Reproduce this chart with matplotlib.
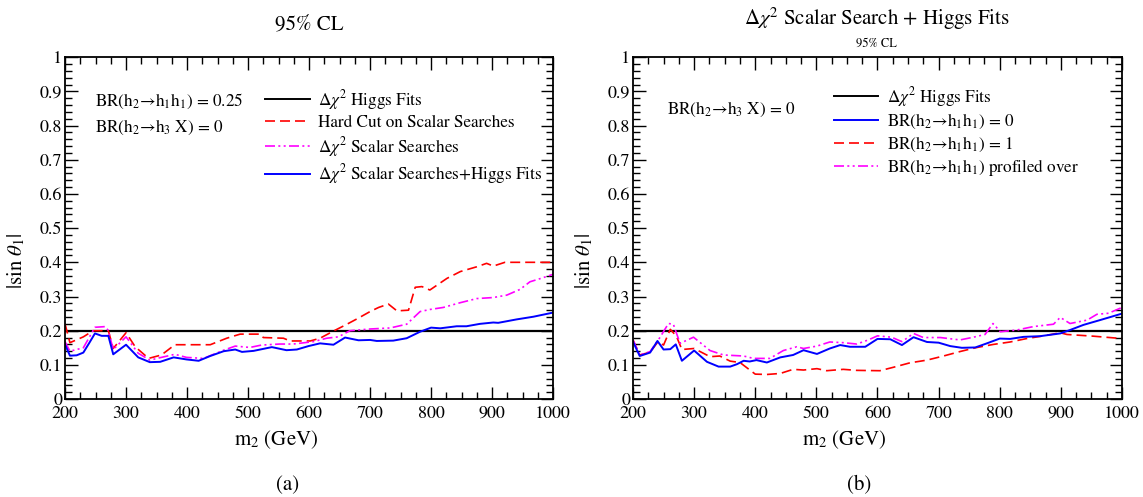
import matplotlib
matplotlib.use("Agg")
import matplotlib.pyplot as plt
import matplotlib.transforms as mtransforms
from matplotlib.ticker import MultipleLocator
from matplotlib.lines import Line2D

plt.rcParams['font.family'] = ['STIXGeneral', 'DejaVu Serif']
plt.rcParams['mathtext.fontset'] = 'stix'

# sin(theta) limit from Higgs fits alone
higgs_limit = 0.2
m_range = [200, 1000]

# ---- panel (a) ----
m_a_hard = [200, 208, 230, 246, 271, 279, 300, 315, 337, 358, 380, 438, 465, 487, 520, 525,
            558, 569, 602, 618, 640, 660, 680, 700, 714, 730, 744, 763, 774, 785, 798, 826,
            848, 875, 891, 902, 921, 1000]
s_a_hard = [0.22, 0.165, 0.182, 0.2, 0.2, 0.148, 0.194, 0.153, 0.119, 0.129, 0.159, 0.159, 0.178,
            0.19, 0.19, 0.18, 0.178, 0.17, 0.17, 0.178, 0.199, 0.217, 0.236, 0.256, 0.268, 0.278,
            0.258, 0.26, 0.327, 0.329, 0.319, 0.353, 0.373, 0.387, 0.397, 0.389, 0.40, 0.40]

m_a_scalar = [200, 208, 230, 249, 266, 271, 279, 300, 320, 339, 358, 380, 399, 427, 460, 479,
              503, 522, 552, 574, 607, 629, 648, 667, 700, 733, 760, 782, 798, 820, 848, 875,
              902, 924, 946, 962, 980, 1000]
s_a_scalar = [0.168, 0.14, 0.15, 0.21, 0.212, 0.2, 0.145, 0.182, 0.134, 0.114, 0.122, 0.131,
              0.122, 0.119, 0.143, 0.155, 0.151, 0.158, 0.161, 0.161, 0.168, 0.178, 0.182, 0.2,
              0.205, 0.208, 0.219, 0.256, 0.262, 0.268, 0.282, 0.294, 0.297, 0.304, 0.321,
              0.343, 0.353, 0.365]

m_a_comb = [200, 208, 219, 230, 240, 249, 260, 271, 279, 300, 320, 339, 356, 378, 399, 419, 438,
            460, 479, 490, 509, 539, 563, 580, 599, 618, 640, 659, 681, 700, 711, 738, 760, 782,
            800, 815, 842, 858, 880, 902, 910, 940, 968, 1000]
s_a_comb = [0.16, 0.127, 0.128, 0.136, 0.165, 0.192, 0.185, 0.185, 0.131, 0.159, 0.122, 0.108,
            0.109, 0.122, 0.116, 0.112, 0.126, 0.140, 0.145, 0.138, 0.141, 0.152, 0.143, 0.145,
            0.155, 0.163, 0.159, 0.180, 0.172, 0.173, 0.170, 0.171, 0.178, 0.197, 0.209, 0.207,
            0.213, 0.213, 0.220, 0.224, 0.223, 0.233, 0.241, 0.253]

# ---- panel (b) ----
m_b_br0 = [200, 211, 228, 240, 250, 261, 270, 280, 300, 321, 340, 359, 370, 381, 391, 402, 419,
           441, 462, 479, 501, 522, 539, 555, 580, 600, 621, 640, 659, 681, 700, 719, 738, 760,
           779, 800, 817, 839, 866, 899, 915, 937, 964, 1000]
s_b_br0 = [0.168, 0.126, 0.136, 0.17, 0.145, 0.146, 0.16, 0.112, 0.142, 0.109, 0.095, 0.095,
           0.102, 0.112, 0.110, 0.114, 0.107, 0.122, 0.129, 0.143, 0.132, 0.148, 0.158, 0.153,
           0.153, 0.176, 0.175, 0.158, 0.181, 0.167, 0.165, 0.155, 0.150, 0.151, 0.163, 0.177,
           0.176, 0.182, 0.184, 0.192, 0.202, 0.217, 0.231, 0.250]

m_b_br1 = [200, 211, 228, 241, 250, 261, 271, 280, 300, 326, 342, 359, 375, 400, 419, 441, 462,
           479, 501, 517, 544, 566, 604, 626, 653, 681, 708, 735, 760, 790, 817, 844, 872, 899,
           910, 953, 1000]
s_b_br1 = [0.173, 0.129, 0.137, 0.168, 0.158, 0.204, 0.184, 0.145, 0.148, 0.124, 0.126, 0.111,
           0.107, 0.073, 0.072, 0.075, 0.087, 0.085, 0.089, 0.083, 0.087, 0.084, 0.083, 0.093,
           0.106, 0.114, 0.126, 0.139, 0.150, 0.160, 0.167, 0.177, 0.185, 0.194, 0.189, 0.184,
           0.177]

m_b_prof = [200, 211, 228, 244, 258, 266, 277, 299, 326, 348, 381, 397, 424, 446, 468, 479, 501,
            522, 544, 566, 585, 600, 623, 640, 659, 675, 703, 735, 757, 776, 789, 801, 828, 855,
            888, 899, 915, 943, 959, 978, 1000]
s_b_prof = [0.173, 0.129, 0.139, 0.18, 0.221, 0.219, 0.163, 0.181, 0.142, 0.129, 0.126, 0.119,
            0.119, 0.142, 0.153, 0.148, 0.155, 0.167, 0.165, 0.161, 0.173, 0.185, 0.181, 0.168,
            0.192, 0.18, 0.18, 0.173, 0.181, 0.189, 0.221, 0.197, 0.202, 0.212, 0.219, 0.239,
            0.221, 0.231, 0.248, 0.251, 0.268]

RED_DASH = (0, (6, 3))
MAG_DASH = (0, (6, 2, 1.2, 2, 1.2, 2))
FS_TXT = 12.3


def style_axes(ax):
    ax.set_xlim(200, 1000)
    ax.set_ylim(0, 1)
    ax.xaxis.set_major_locator(MultipleLocator(100))
    ax.xaxis.set_minor_locator(MultipleLocator(25))
    ax.yaxis.set_major_locator(MultipleLocator(0.1))
    ax.yaxis.set_minor_locator(MultipleLocator(0.02))
    ax.yaxis.set_major_formatter(plt.FuncFormatter(lambda v, p: "0" if v == 0 else ("1" if v == 1 else f"{v:.1f}")))
    ax.tick_params(which='both', direction='in', top=True, right=True, labelsize=13)
    ax.tick_params(axis='x', pad=5)
    ax.tick_params(axis='y', pad=2)
    ax.tick_params(which='major', length=9, width=1)
    ax.tick_params(which='minor', length=5, width=1)
    for sp in ax.spines.values():
        sp.set_linewidth(1.3)
    ax.set_xlabel('m$_2$ (GeV)', fontsize=15)
    ax.set_ylabel(r'|sin $\theta_1$|', fontsize=15)
    ax.xaxis.set_label_coords(0.432, -0.085)
    ax.yaxis.set_label_coords(-0.078, 0.406)
    # lift the "0" label a little so it sits just above the "200" label
    zero = ax.yaxis.get_major_ticks()[0].label1
    zero.set_transform(zero.get_transform() +
                       mtransforms.ScaledTranslation(0, 4 / 72, ax.figure.dpi_scale_trans))


fig = plt.figure(figsize=(11.43, 4.97), dpi=100)
ax1 = fig.add_axes([0.0569, 0.197, 0.427, 0.688])
ax2 = fig.add_axes([0.5538, 0.197, 0.4278, 0.688])

# panel (a)
ax1.plot(m_range, [higgs_limit, higgs_limit], color='black', lw=1.6)
ax1.plot(m_a_hard, s_a_hard, color='#ff0000', lw=1.2, linestyle=RED_DASH)
ax1.plot(m_a_scalar, s_a_scalar, color='#ff00ff', lw=1.2, linestyle=MAG_DASH)
ax1.plot(m_a_comb, s_a_comb, color='#0000ff', lw=1.4)
style_axes(ax1)
ax1.set_title('95% CL', fontsize=15, pad=20)
ax1.text(0.062, 0.872, 'BR(h$_2$→h$_1$h$_1$) = 0.25', transform=ax1.transAxes,
         fontsize=FS_TXT, va='center')
ax1.text(0.062, 0.795, 'BR(h$_2$→h$_3$ X) = 0', transform=ax1.transAxes,
         fontsize=FS_TXT, va='center')
h1 = [Line2D([], [], color='black', lw=1.4),
      Line2D([], [], color='#ff0000', lw=1.2, linestyle=RED_DASH),
      Line2D([], [], color='#ff00ff', lw=1.2, linestyle=MAG_DASH),
      Line2D([], [], color='#0000ff', lw=1.4)]
l1 = [r'$\Delta\chi^2$ Higgs Fits', 'Hard Cut on Scalar Searches',
      r'$\Delta\chi^2$ Scalar Searches', r'$\Delta\chi^2$ Scalar Searches+Higgs Fits']
ax1.legend(h1, l1, loc='upper left', bbox_to_anchor=(0.41, 0.91), frameon=False, fontsize=FS_TXT,
           handlelength=2.6, handletextpad=0.5, labelspacing=0.2, borderpad=0, borderaxespad=0)

# panel (b)
ax2.plot(m_range, [higgs_limit, higgs_limit], color='black', lw=1.6)
ax2.plot(m_b_br1, s_b_br1, color='#ff0000', lw=1.2, linestyle=RED_DASH)
ax2.plot(m_b_prof, s_b_prof, color='#ff00ff', lw=1.2, linestyle=MAG_DASH)
ax2.plot(m_b_br0, s_b_br0, color='#0000ff', lw=1.4)
style_axes(ax2)
fig.text(0.767, 0.962, r'$\Delta\chi^2$ Scalar Search + Higgs Fits', fontsize=15, ha='center', va='center')
fig.text(0.767, 0.912, '95% CL', fontsize=9, ha='center', va='center')
ax2.text(0.07, 0.848, 'BR(h$_2$→h$_3$ X) = 0', transform=ax2.transAxes,
         fontsize=FS_TXT, va='center')
h2 = [Line2D([], [], color='black', lw=1.4),
      Line2D([], [], color='#0000ff', lw=1.4),
      Line2D([], [], color='#ff0000', lw=1.2, linestyle=RED_DASH),
      Line2D([], [], color='#ff00ff', lw=1.2, linestyle=MAG_DASH)]
l2 = [r'$\Delta\chi^2$ Higgs Fits', 'BR(h$_2$→h$_1$h$_1$) = 0',
      'BR(h$_2$→h$_1$h$_1$) = 1', 'BR(h$_2$→h$_1$h$_1$) profiled over']
ax2.legend(h2, l2, loc='upper left', bbox_to_anchor=(0.411, 0.92), frameon=False, fontsize=FS_TXT,
           handlelength=2.6, handletextpad=0.5, labelspacing=0.2, borderpad=0, borderaxespad=0)

fig.text(0.252, 0.024, '(a)', fontsize=15, ha='center', va='center')
fig.text(0.752, 0.024, '(b)', fontsize=15, ha='center', va='center')

fig.savefig('out.png', dpi=100)
